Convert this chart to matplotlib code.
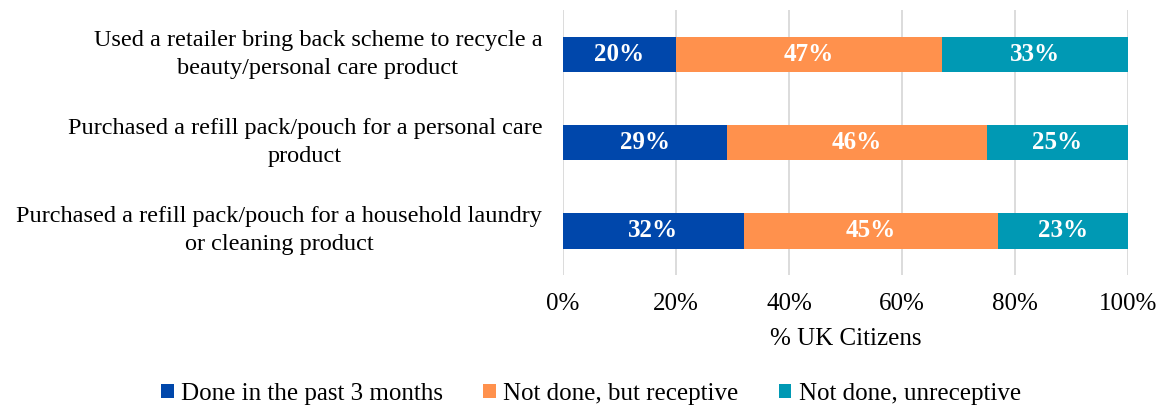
import matplotlib.pyplot as plt
import numpy as np

plt.rcParams['font.family'] = ['Liberation Serif', 'DejaVu Serif']

statements = [
    "Used a retailer bring back scheme to recycle a\nbeauty/personal care product",
    "Purchased a refill pack/pouch for a personal care\nproduct",
    "Purchased a refill pack/pouch for a household laundry\nor cleaning product",
]
done = [20, 29, 32]
receptive = [47, 46, 45]
unreceptive = [33, 25, 23]

series_names = ["Done in the past 3 months", "Not done, but receptive", "Not done, unreceptive"]
colors = ["#0047AB", "#FF914D", "#0099B4"]

fig = plt.figure(figsize=(11.68, 4.07), dpi=100)
ax = fig.add_axes([563 / 1168, 1 - 275 / 407, (1128 - 563) / 1168, 265 / 407])

y = np.arange(len(statements))
left = np.zeros(len(statements))
handles = []
for vals, name, col in zip([done, receptive, unreceptive], series_names, colors):
    bars = ax.barh(y, vals, left=left, height=0.4, color=col, label=name, zorder=3)
    handles.append(bars)
    for yi, l, v in zip(y, left, vals):
        ax.text(l + v / 2, yi, f"{v}%", ha='center', va='center', color='white',
                fontsize=18, fontweight='bold', zorder=4)
    left += np.array(vals)

ax.set_ylim(len(statements) - 0.5, -0.5)
ax.set_xlim(0, 100)
ax.set_yticks(y)
ax.set_yticklabels(statements, fontsize=17.5, linespacing=1.45, multialignment='center')
for lbl in ax.get_yticklabels():
    lbl.set_verticalalignment('center')
ax.set_xticks(range(0, 101, 20))
ax.set_xticklabels([f"{t}%" for t in range(0, 101, 20)], fontsize=18)
ax.tick_params(axis='both', length=0, colors='#000000')
ax.tick_params(axis='x', pad=13)
ax.tick_params(axis='y', pad=15)
ax.grid(axis='x', color='#D9D9D9', linewidth=1.3, zorder=0)
for s in ax.spines.values():
    s.set_visible(False)
ax.set_xlabel("% UK Citizens", fontsize=18, labelpad=9)

fig.legend(handles=handles, labels=series_names, loc='center', bbox_to_anchor=(591 / 1168, 1 - 394 / 407),
           ncol=3, frameon=False, fontsize=18, handlelength=0.5, handleheight=0.5,
           handletextpad=0.3, columnspacing=1.6)

fig.savefig("out.png", dpi=100)
